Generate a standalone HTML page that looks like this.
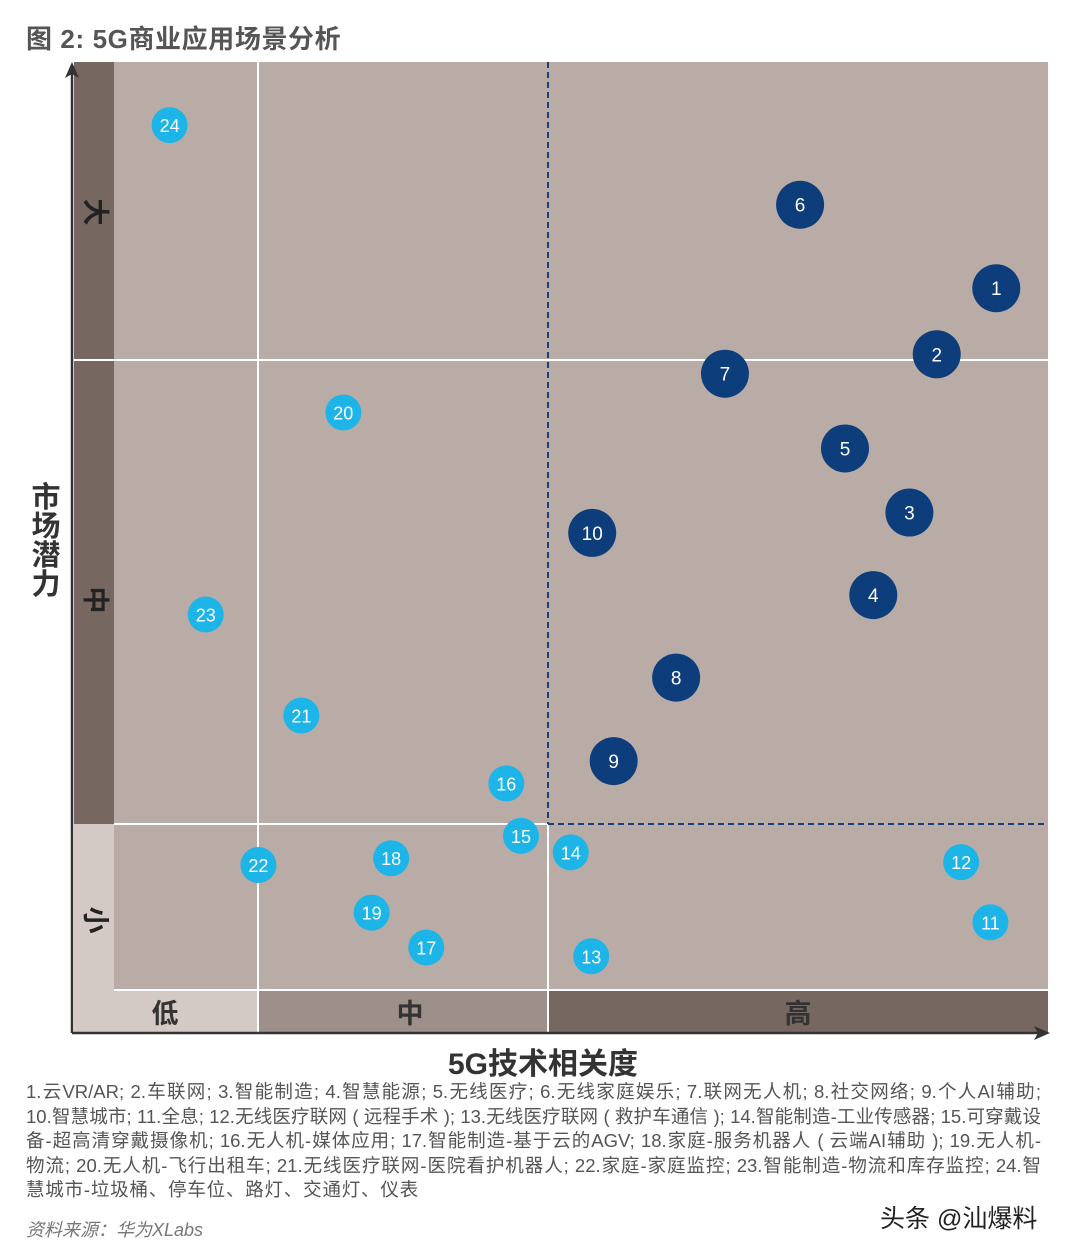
<!DOCTYPE html>
<html><head><meta charset="utf-8">
<style>
body{margin:0;width:1080px;height:1252px;background:#fff;overflow:hidden;font-family:"Liberation Sans","Noto Sans CJK SC",sans-serif;}
#wrap{position:relative;width:1080px;height:1252px;}
.t{position:absolute;white-space:nowrap;}
.ln{width:1015px;text-align:justify;text-align-last:justify;white-space:nowrap;height:24.6px;}
</style></head><body>
<div id="wrap">
<div class="t" style="left:26px;top:19px;font-size:26px;font-weight:bold;color:#555;letter-spacing:0.6px;">图 2: 5G商业应用场景分析</div>
<svg id="chart" width="1080" height="1080" style="position:absolute;left:0;top:0"></svg>
<div class="t" style="left:29px;top:484px;font-size:29px;font-weight:bold;color:#333;line-height:29px;width:34px;white-space:normal;text-align:center;">市<br>场<br>潜<br>力</div>
<div class="t" style="left:448px;top:1039px;font-size:30px;font-weight:bold;color:#333;">5G技术相关度</div>
<div style="position:absolute;left:26px;top:1080px;width:1015px;font-size:18.5px;line-height:24.6px;color:#555;">
<div class="ln">1.云VR/AR; 2.车联网; 3.智能制造; 4.智慧能源; 5.无线医疗; 6.无线家庭娱乐; 7.联网无人机; 8.社交网络; 9.个人AI辅助;</div>
<div class="ln">10.智慧城市; 11.全息; 12.无线医疗联网 ( 远程手术 ); 13.无线医疗联网 ( 救护车通信 ); 14.智能制造-工业传感器; 15.可穿戴设</div>
<div class="ln">备-超高清穿戴摄像机; 16.无人机-媒体应用; 17.智能制造-基于云的AGV; 18.家庭-服务机器人 ( 云端AI辅助 ); 19.无人机-</div>
<div class="ln">物流; 20.无人机-飞行出租车; 21.无线医疗联网-医院看护机器人; 22.家庭-家庭监控; 23.智能制造-物流和库存监控; 24.智</div>
<div style="letter-spacing:0.8px;">慧城市-垃圾桶、停车位、路灯、交通灯、仪表</div>
</div>
<div class="t" style="left:26px;top:1216px;font-size:18px;font-style:italic;color:#777;">资料来源：华为XLabs</div>
<div class="t" style="left:880px;top:1199px;font-size:25px;color:#222;">头条 @汕爆料</div>
</div>
<script>
const ids=[24,6,1,2,7,5,3,10,4,8,9,20,23,21,16,15,14,22,18,12,19,11,17,13];
const xVals=[10.0,74.6,94.7,88.6,66.9,79.2,85.8,53.3,82.1,61.9,55.5,27.8,13.7,23.5,44.5,46.0,51.1,19.1,32.7,91.1,30.7,94.1,36.3,53.2];
const yVals=[93.5,85.3,76.7,69.9,67.9,60.2,53.6,51.5,45.1,36.6,28.0,63.9,43.1,32.7,25.7,20.3,18.6,17.3,18.0,17.6,12.4,11.4,8.8,7.9];
const highTech=[0,1,1,1,1,1,1,1,1,1,1,0,0,0,0,0,0,0,0,0,0,0,0,0];
const xBands=['低','中','高'];
const yBands=['大','中','小'];
const X0=72,X1=1048,Y0=1033,Y1=62;
function sx(v){return X0+(X1-X0)*v/100;}
function sy(v){return Y0-(Y0-Y1)*v/100;}
const svg=document.getElementById('chart');const NS='http://www.w3.org/2000/svg';
function mk(tag,a,name,parent){const e=document.createElementNS(NS,tag);for(const k in a)e.setAttribute(k,a[k]);


(parent||svg).appendChild(e);return e;}
mk('rect',{x:114,y:62,width:934,height:928,fill:'#b9aca6'},'plot-area');
mk('rect',{x:74,y:62,width:40,height:762,fill:'#766760'},'y-band-dark');
mk('rect',{x:74,y:824,width:40,height:166,fill:'#d3cac6'},'y-band-light');
mk('rect',{x:74,y:990,width:184,height:43,fill:'#d3cac6'},'x-band-low');
mk('rect',{x:258,y:990,width:290,height:43,fill:'#9d908a'},'x-band-mid');
mk('rect',{x:548,y:990,width:500,height:43,fill:'#766760'},'x-band-high');
mk('line',{x1:258,y1:62,x2:258,y2:1033,stroke:'#fff','stroke-width':2},'grid-x-low-mid');
mk('line',{x1:74,y1:360,x2:1048,y2:360,stroke:'#fff','stroke-width':2},'grid-y-high-mid');
mk('line',{x1:114,y1:824,x2:548,y2:824,stroke:'#fff','stroke-width':2},'grid-y-mid-low');
mk('line',{x1:548,y1:824,x2:548,y2:1033,stroke:'#fff','stroke-width':2},'grid-x-mid-high');
mk('line',{x1:114,y1:990,x2:1048,y2:990,stroke:'#fff','stroke-width':2},'plot-bottom-edge');
mk('line',{x1:548,y1:62,x2:548,y2:824,stroke:'#1e3e7a','stroke-width':2,'stroke-dasharray':'6,4'},'quadrant-dash-v');
mk('line',{x1:548,y1:824,x2:1048,y2:824,stroke:'#1e3e7a','stroke-width':2,'stroke-dasharray':'6,4'},'quadrant-dash-h');
mk('line',{x1:72,y1:1033,x2:72,y2:70,stroke:'#333','stroke-width':2.5},'y-axis-line');
mk('path',{d:'M72,62 L65,78 L72,74 L79,78 Z',fill:'#333'},'y-axis-arrow');
mk('line',{x1:72,y1:1033,x2:1040,y2:1033,stroke:'#333','stroke-width':2.5},'x-axis-line');
mk('path',{d:'M1050,1033 L1034,1026 L1038,1033 L1034,1040 Z',fill:'#333'},'x-axis-arrow');
const xbc=[165,410,798];
xBands.forEach((b,i)=>{const t=mk('text',{x:xbc[i],y:1023,'text-anchor':'middle','font-size':27,'font-weight':'bold',fill:'#333','font-family':'Liberation Sans, Noto Sans CJK SC, sans-serif'},'x-band-label');t.textContent=b;});
const ybc=[212,600,920];
yBands.forEach((b,i)=>{const t=mk('text',{x:0,y:0,'text-anchor':'middle','dominant-baseline':'central','font-size':27,'font-weight':'bold',fill:'#222',transform:'translate(95,'+ybc[i]+') rotate(90)','font-family':'Liberation Sans, Noto Sans CJK SC, sans-serif'},'y-band-label');t.textContent=b;});
ids.forEach((id,i)=>{const h=highTech[i];const g=mk('g',{},'point-'+id);
mk('circle',{cx:sx(xVals[i]),cy:sy(yVals[i]),r:h?24:18,fill:h?'#0e3d7c':'#1db4e8'},'point-circle',g);
const t=mk('text',{x:sx(xVals[i]),y:sy(yVals[i])+7,'text-anchor':'middle','font-size':h?19:18,fill:'#fff','font-family':'Liberation Sans, sans-serif'},'point-label',g);t.textContent=id;});
</script>
</body></html>
